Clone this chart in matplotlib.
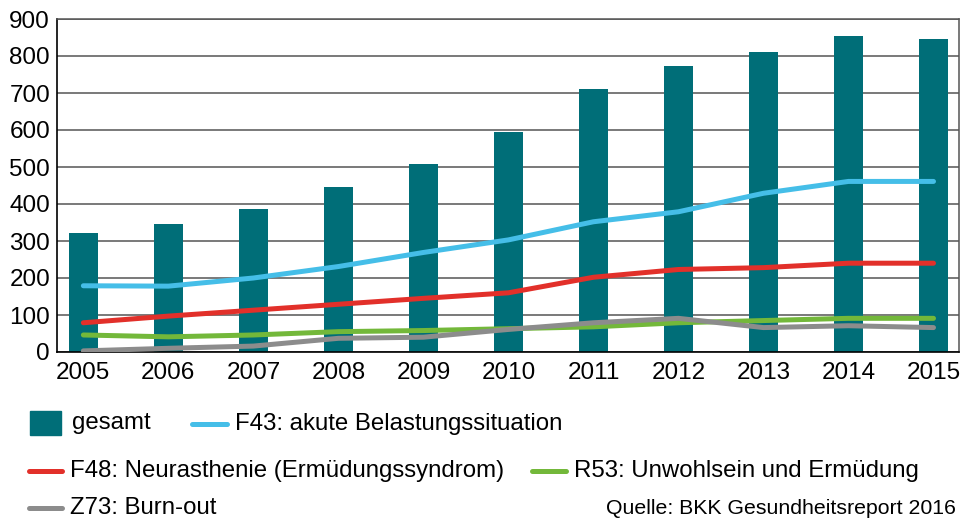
import matplotlib
matplotlib.use('Agg')
import matplotlib.pyplot as plt
from matplotlib.lines import Line2D
from matplotlib.patches import Rectangle

# data
years = ['2005', '2006', '2007', '2008', '2009', '2010',
         '2011', '2012', '2013', '2014', '2015']
gesamt = [321, 346, 386, 446, 508, 595, 711, 773, 811, 855, 846]
f43 = [179, 178, 200, 231, 269, 303, 352, 379, 429, 461, 461]
f48 = [79, 97, 113, 129, 145, 160, 202, 223, 228, 240, 240]
r53 = [46, 41, 46, 55, 58, 63, 68, 79, 85, 91, 91]
z73 = [3, 10, 16, 37, 40, 61, 79, 91, 66, 71, 66]

bar_col = '#006E78'
line_cols = {'f43': '#45BEE8', 'f48': '#E2302A', 'r53': '#73B83A', 'z73': '#8C8C8C'}

plt.rcParams['font.family'] = ['Liberation Sans', 'DejaVu Sans']

W, H = 963, 519
fig = plt.figure(figsize=(W / 100, H / 100), dpi=100)
ax = fig.add_axes([57 / W, 1 - 352 / H, (959 - 57) / W, (352 - 19) / H])

x = list(range(len(years)))
ax.bar(x, gesamt, width=0.34, color=bar_col, zorder=2)
lw = 3.6
ax.plot(x, f43, color=line_cols['f43'], lw=lw, solid_capstyle='round', zorder=3)
ax.plot(x, f48, color=line_cols['f48'], lw=lw, solid_capstyle='round', zorder=3)
ax.plot(x, r53, color=line_cols['r53'], lw=lw, solid_capstyle='round', zorder=3)
ax.plot(x, z73, color=line_cols['z73'], lw=lw, solid_capstyle='round', zorder=3)

ax.set_xlim(-0.31, 10.3)
ax.set_ylim(0, 900)
ax.set_yticks(range(0, 901, 100))
ax.set_xticks(x)
ax.set_xticklabels(years)
ax.yaxis.grid(True, color='#555555', lw=1.1, zorder=1)
ax.tick_params(axis='both', length=0, labelsize=17.5)
ax.tick_params(axis='y', pad=5)
ax.tick_params(axis='x', pad=7)
for s in ['top', 'right']:
    ax.spines[s].set_color('#555555')
    ax.spines[s].set_linewidth(1.1)
for s in ['left', 'bottom']:
    ax.spines[s].set_color('black')
    ax.spines[s].set_linewidth(1.2)

# legend drawn by hand in pixel positions
def fx(px):
    return px / W

def fy(py):
    return 1 - py / H

fig.add_artist(Rectangle((fx(30), fy(435)), 31 / W, 24 / H, color=bar_col,
                         transform=fig.transFigure))
fig.text(fx(72), fy(423), 'gesamt', fontsize=17.3, va='center')

items = [
    (192, 227, 424, 235, 'f43', 'F43: akute Belastungssituation'),
    (29, 62, 471, 70, 'f48', 'F48: Neurasthenie (Ermüdungssyndrom)'),
    (532, 566, 471, 574, 'r53', 'R53: Unwohlsein und Ermüdung'),
    (29, 62, 508, 70, 'z73', 'Z73: Burn-out'),
]
for x0, x1, yy, tx, key, label in items:
    fig.add_artist(Line2D([fx(x0), fx(x1)], [fy(yy), fy(yy)], color=line_cols[key],
                          lw=lw, solid_capstyle='round', transform=fig.transFigure))
    fig.text(fx(tx), fy(yy), label, fontsize=17.3, va='center')

fig.text(fx(956), fy(509), 'Quelle: BKK Gesundheitsreport 2016', fontsize=15.3,
         va='center', ha='right')

fig.savefig('out.png', dpi=100)
